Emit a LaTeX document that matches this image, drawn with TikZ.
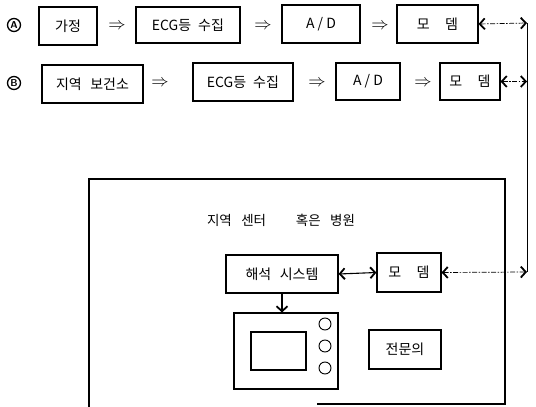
\documentclass[tikz,border=0pt]{standalone}
\usepackage{fontspec}
\newfontfamily\krfont{Noto Sans CJK KR}
\usetikzlibrary{arrows.meta}
\begin{document}
\begin{tikzpicture}[x=1pt,y=-1pt,
  box/.style={draw,line width=1.1pt,inner sep=0pt,font=\krfont\fontsize{14}{16}\selectfont},
  imp/.style={font=\fontsize{17}{18}\selectfont,inner sep=0pt},
  tip/.style={{Straight Barb[length=5pt,width=11pt,line width=1.8pt]}-{Straight Barb[length=5pt,width=11pt,line width=1.8pt]}},
  dd/.style={line width=0.7pt,dash pattern=on 5pt off 1.5pt on 1.5pt off 1.5pt},
  lbl/.style={draw,circle,line width=1.3pt,minimum size=13pt,inner sep=0pt,font=\sffamily\bfseries\fontsize{10}{10}\selectfont}]
\useasboundingbox (0,0) rectangle (536,407);
% row A
\node[lbl] (ca) at (14,25) {A};
\node[box,minimum width=58,minimum height=38] (a1) at (68,26) {가정};
\node[imp] (p1) at (117,26) {$\Rightarrow$};
\node[box,minimum width=104,minimum height=36] (a2) at (188,25) {ECG등\hspace{0.5em}수집};
\node[imp] (p2) at (263,26) {$\Rightarrow$};
\node[box,minimum width=78,minimum height=38] (a3) at (321,24) {A / D};
\node[imp] (p3) at (380,26) {$\Rightarrow$};
\node[box,minimum width=81,minimum height=38] (a4) at (437.5,24) {모\hspace{1.1em}뎀};
\coordinate (ea) at (527,23);
% row B
\node[lbl] (cb) at (14,83) {B};
\node[box,minimum width=101,minimum height=38] (b1) at (92.5,84) {지역\hspace{0.6em}보건소};
\node[imp] (q1) at (160,83) {$\Rightarrow$};
\node[box,minimum width=100,minimum height=38] (b2) at (243,82) {ECG등\hspace{0.5em}수집};
\node[imp] (q2) at (317,83) {$\Rightarrow$};
\node[box,minimum width=64,minimum height=37] (b3) at (368,81.5) {A / D};
\node[imp] (q3) at (423,83) {$\Rightarrow$};
\node[box,minimum width=60,minimum height=37] (b4) at (470,81.5) {모\hspace{1.1em}뎀};
\coordinate (eb) at (527,80);
\draw[dd,tip] (a4.east) -- (ea);
\draw[dd,tip] (b4.east) -- (b4.east -| eb);
% centre box
\draw[line width=1.1pt] (89,407) -- (89,179) -- (505,179) -- (505,404) -- (317,404);
\node[font=\krfont\fontsize{13.5}{15}\selectfont,inner sep=0pt] (title) at (281,220) {지역\hspace{0.7em}센터\hspace{2.2em}혹은\hspace{0.7em}병원};
\node[box,minimum width=112,minimum height=38] (h1) at (282,274) {해석\hspace{0.6em}시스템};
\node[box,minimum width=64,minimum height=39] (m2) at (409,272.5) {모\hspace{1.1em}뎀};
\node[box,minimum width=72,minimum height=39] (sp) at (405,349.5) {전문의};
\node[draw,line width=1.1pt,minimum width=104,minimum height=76,inner sep=0pt] (mon) at (286,351) {};
\node[draw,line width=1.1pt,minimum width=55,minimum height=38,inner sep=0pt] (scr) at (278.5,351) {};
\node[draw,circle,line width=0.9pt,minimum size=12,inner sep=0pt] (k1) at (325,324) {};
\node[draw,circle,line width=0.9pt,minimum size=12,inner sep=0pt] (k2) at (325,346) {};
\node[draw,circle,line width=0.9pt,minimum size=12,inner sep=0pt] (k3) at (325,368) {};
\coordinate (ec) at (527,272);
\draw[line width=1.1pt,tip] (h1.east) -- (m2.west);
\draw[dd,tip] (m2.east) -- (ec);
\draw[line width=0.8pt] (ea) -- (ec);
\draw[line width=1.1pt,-{Straight Barb[length=5pt,width=11pt,line width=1.8pt]}] (h1.south) -- (h1.south |- mon.north);
\end{tikzpicture}
\end{document}
